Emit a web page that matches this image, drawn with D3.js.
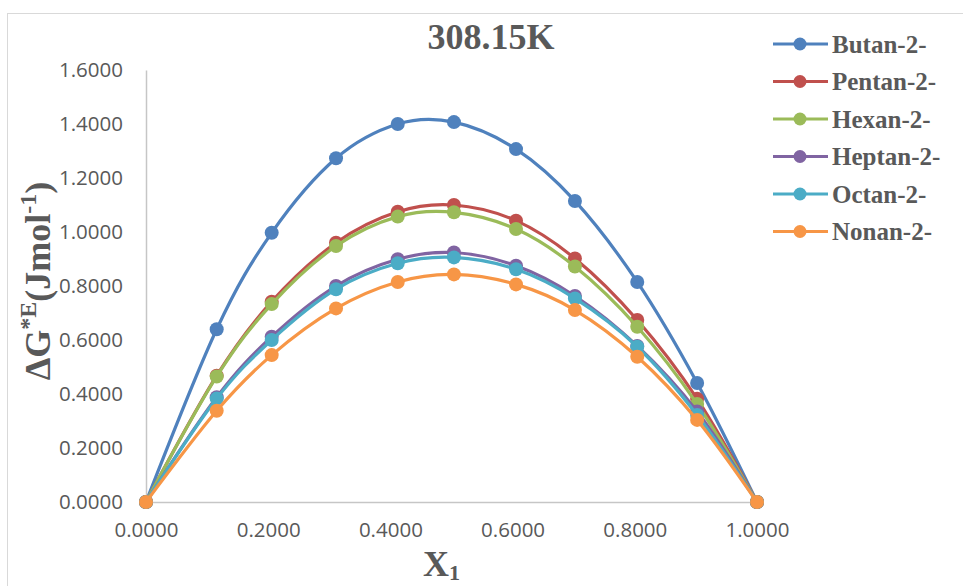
<!DOCTYPE html>
<html>
<head>
<meta charset="utf-8">
<script src="https://cdn.jsdelivr.net/npm/d3@7"></script>
<style>
  html, body { margin: 0; padding: 0; background: #ffffff; }
  svg { display: block; }
</style>
</head>
<body>
<svg id="chart" width="963" height="586"></svg>
<script>
// Mole fraction of component 1
const xValues = [0, 0.1157, 0.2057, 0.3110, 0.4120, 0.5040, 0.6056, 0.7020, 0.8040, 0.9020, 1.0];

// Excess Gibbs energy of activation, one list per system
const butan  = [0, 0.640, 0.997, 1.273, 1.400, 1.407, 1.307, 1.115, 0.815, 0.441, 0];
const pentan = [0, 0.468, 0.742, 0.960, 1.075, 1.100, 1.042, 0.902, 0.674, 0.382, 0];
const hexan  = [0, 0.465, 0.733, 0.948, 1.057, 1.073, 1.011, 0.872, 0.649, 0.363, 0];
const heptan = [0, 0.388, 0.612, 0.800, 0.899, 0.924, 0.875, 0.763, 0.578, 0.335, 0];
const octan  = [0, 0.383, 0.600, 0.788, 0.884, 0.906, 0.862, 0.754, 0.575, 0.322, 0];
const nonan  = [0, 0.338, 0.544, 0.717, 0.815, 0.843, 0.806, 0.711, 0.538, 0.304, 0];

const seriesNames = ["Butan-2-", "Pentan-2-", "Hexan-2-", "Heptan-2-", "Octan-2-", "Nonan-2-"];
const seriesValues = [butan, pentan, hexan, heptan, octan, nonan];
const seriesColors = ["#4F81BD", "#C0504D", "#9BBB59", "#8064A2", "#4BACC6", "#F79646"];

const xTicks = [0, 0.2, 0.4, 0.6, 0.8, 1.0];
const yTicks = [0, 0.2, 0.4, 0.6, 0.8, 1.0, 1.2, 1.4, 1.6];

const svg = d3.select("#chart");
const textColor = "#595959";
const serif = "'Liberation Serif', 'Times New Roman', serif";
const sans = "'Open Sans', 'Liberation Sans', sans-serif";

// chart frame
svg.append("rect")
  .attr("x", 7.5).attr("y", 13.5)
  .attr("width", 1000).attr("height", 1000)
  .attr("fill", "none").attr("stroke", "#d9d9d9").attr("stroke-width", 1);

const x = d3.scaleLinear().domain([0, 1]).range([146, 757]);
const y = d3.scaleLinear().domain([0, 1.6]).range([502, 70]);

// axes
const fmt = d3.format(".4f");
const yAxis = svg.append("g")
  .attr("transform", `translate(${x(0)},0)`)
  .call(d3.axisLeft(y).tickValues(yTicks).tickFormat(fmt).tickSize(0).tickPadding(23));
const xAxis = svg.append("g")
  .attr("transform", `translate(0,${y(0)})`)
  .call(d3.axisBottom(x).tickValues(xTicks).tickFormat(fmt).tickSize(0).tickPadding(20));

[xAxis, yAxis].forEach(g => {
  g.select(".domain").attr("stroke", "#c6c6c6").attr("stroke-width", 1.5);
  g.selectAll("text")
    .attr("fill", textColor)
    .style("font-family", sans)
    .style("font-size", "20.5px");
});

// series: smoothed lines with circle markers
const line = d3.line()
  .x((d, i) => x(xValues[i]))
  .y(d => y(d))
  .curve(d3.curveCardinal.tension(0));

const groups = svg.append("g").selectAll("g")
  .data(seriesValues)
  .join("g");

groups.append("path")
  .attr("d", d => line(d))
  .attr("fill", "none")
  .attr("stroke", (d, i) => seriesColors[i])
  .attr("stroke-width", 3.2)
  .attr("stroke-linejoin", "round");

groups.each(function (vals, si) {
  d3.select(this).selectAll("circle")
    .data(vals)
    .join("circle")
    .attr("cx", (d, i) => x(xValues[i]))
    .attr("cy", d => y(d))
    .attr("r", 7)
    .attr("fill", seriesColors[si]);
});

// title
svg.append("text")
  .attr("x", 491).attr("y", 49)
  .attr("text-anchor", "middle")
  .attr("fill", textColor)
  .style("font-family", serif)
  .style("font-weight", "bold")
  .style("font-size", "36px")
  .text("308.15K");

// y axis title
const yTitle = svg.append("text")
  .attr("transform", "translate(50,281) rotate(-90)")
  .attr("text-anchor", "middle")
  .attr("fill", textColor)
  .style("font-family", serif)
  .style("font-weight", "bold")
  .style("font-size", "36px");
yTitle.append("tspan").text("\u0394G");
yTitle.append("tspan").attr("dy", -14).style("font-size", "24px").text("*E");
yTitle.append("tspan").attr("dy", 14).text("(Jmol");
yTitle.append("tspan").attr("dy", -14).style("font-size", "24px").text("-1");
yTitle.append("tspan").attr("dy", 14).text(")");

// x axis title
const xTitle = svg.append("text")
  .attr("x", 423).attr("y", 576)
  .attr("fill", textColor)
  .style("font-family", serif)
  .style("font-weight", "bold")
  .style("font-size", "36px");
xTitle.append("tspan").text("X");
xTitle.append("tspan").attr("dy", 4).style("font-size", "22px").text("1");

// legend
const legend = svg.append("g").selectAll("g")
  .data(seriesNames)
  .join("g")
  .attr("transform", (d, i) => `translate(0,${44 + i * 37.5})`);

legend.append("line")
  .attr("x1", 773).attr("x2", 828)
  .attr("stroke", (d, i) => seriesColors[i])
  .attr("stroke-width", 3.2);
legend.append("circle")
  .attr("cx", 800).attr("r", 6.5)
  .attr("fill", (d, i) => seriesColors[i]);
legend.append("text")
  .attr("x", 832).attr("y", 8.5)
  .attr("fill", textColor)
  .style("font-family", serif)
  .style("font-weight", "bold")
  .style("font-size", "25px")
  .text(d => d);
</script>
</body>
</html>
